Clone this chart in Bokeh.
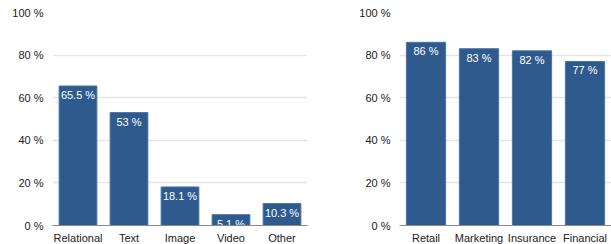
from bokeh.plotting import figure
from bokeh.layouts import row
from bokeh.models import ColumnDataSource, FixedTicker, CustomJSTickFormatter
from bokeh.core.properties import value
from bokeh.embed import file_html
from bokeh.resources import INLINE

data_types = ["Relational", "Text", "Image", "Video", "Other"]
data_type_values = [65.5, 53, 18.1, 5.1, 10.3]
data_type_labels = ["65.5 %", "53 %", "18.1 %", "5.1 %", "10.3 %"]

industries = ["Retail", "Marketing", "Insurance", "Financial"]
industry_values = [86, 83, 82, 77]
industry_labels = ["86 %", "83 %", "82 %", "77 %"]

y_ticks = [0, 20, 40, 60, 80, 100]

BAR = "#2e5a8e"
FONT = "Liberation Sans"


def make(cats, vals, labels, frame_w, border_left, border_right):
    src = ColumnDataSource(dict(x=cats, top=vals, label=labels))
    p = figure(x_range=cats, y_range=(0, 100), frame_width=frame_w,
               frame_height=213,
               output_backend="svg", toolbar_location=None,
               min_border_left=border_left, min_border_right=border_right,
               min_border_top=12, min_border_bottom=19)
    p.vbar(x="x", top="top", width=0.74, source=src, fill_color=BAR,
           line_color="#4a74a8", line_width=1)
    p.text(x="x", y="top", text="label", source=src, text_color="white",
           text_align="center", text_baseline="top", y_offset=3,
           text_font_size="11px", text_font=value(FONT))
    p.outline_line_color = None
    p.background_fill_color = "white"
    p.xgrid.grid_line_color = None
    p.ygrid.grid_line_color = "#e6e6e6"
    p.ygrid.grid_line_width = 1.5
    p.yaxis.ticker = FixedTicker(ticks=y_ticks)
    p.yaxis.formatter = CustomJSTickFormatter(code="return tick + ' %';")
    for ax in (p.xaxis, p.yaxis):
        ax.major_tick_line_color = None
        ax.minor_tick_line_color = None
        ax.major_tick_out = 0
        ax.major_tick_in = 0
        ax.minor_tick_out = 0
        ax.minor_tick_in = 0
        ax.major_label_text_font = FONT
        ax.major_label_text_font_size = "11px"
        ax.major_label_text_color = "#222222"
    p.yaxis.axis_line_color = None
    p.yaxis.major_label_standoff = 9
    p.xaxis.axis_line_color = "#8a8a8a"
    p.xaxis.major_label_standoff = 6
    p.x_range.range_padding = 0
    return p


p1 = make(data_types, data_type_values, data_type_labels, 255, 52, 3)
p2 = make(industries, industry_values, industry_labels, 212, 89, 0)

layout = row(p1, p2, spacing=0)
open("out.html", "w").write(file_html(layout, INLINE))
